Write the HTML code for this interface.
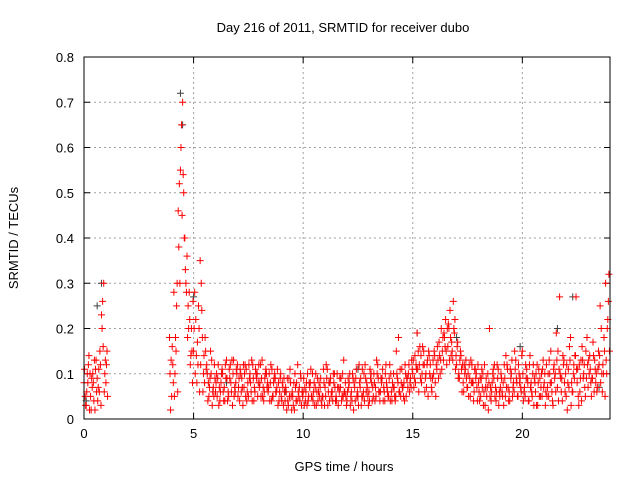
<!DOCTYPE html>
<html><head><meta charset="utf-8"><style>
body{margin:0;background:#fff}
svg{display:block;font-family:"Liberation Sans",sans-serif}
</style></head><body>
<svg id="chart" width="640" height="480">
<rect width="640" height="480" fill="#fff"/>
<text x="343" y="32" font-size="13" text-anchor="middle" fill="#000">Day 216 of 2011, SRMTID for receiver dubo</text>
<text x="18" y="238" font-size="13" text-anchor="middle" transform="rotate(-90 18 238)" fill="#000">SRMTID / TECUs</text>
<text x="344" y="471" font-size="13" text-anchor="middle" fill="#000">GPS time / hours</text>
<g id="grid"></g>
<g id="ticks"></g>
<g id="gray"></g>
<g id="red"></g>
<rect x="84" y="57" width="526" height="362" fill="none" stroke="#000" stroke-width="1"/>
</svg>
<script>
const xTicks=[0,5,10,15,20];
const yTicks=[0,0.1,0.2,0.3,0.4,0.5,0.6,0.7,0.8];
const yTickLabels=["0","0.1","0.2","0.3","0.4","0.5","0.6","0.7","0.8"];
const hours=[0.0,0.1,0.2,0.3,0.4,0.5,0.6,0.7,0.8,0.9,1.0,
3.9,4.0,4.1,4.2,4.3,4.4,4.5,4.6,4.7,4.8,4.9,
5.0,5.1,5.2,5.3,5.4,5.5,5.6,5.7,5.8,5.9,
6.0,6.1,6.2,6.3,6.4,6.5,6.6,6.7,6.8,6.9,7.0,7.1,7.2,7.3,7.4,7.5,7.6,7.7,7.8,7.9,8.0,8.1,8.2,8.3,8.4,8.5,8.6,8.7,8.8,8.9,
9.0,9.1,9.2,9.3,9.4,9.5,9.6,9.7,9.8,9.9,10.0,10.1,10.2,10.3,10.4,10.5,10.6,10.7,10.8,10.9,11.0,11.1,11.2,11.3,11.4,11.5,11.6,11.7,11.8,11.9,
12.0,12.1,12.2,12.3,12.4,12.5,12.6,12.7,12.8,12.9,13.0,13.1,13.2,13.3,13.4,13.5,13.6,13.7,13.8,13.9,14.0,14.1,14.2,14.3,14.4,14.5,14.6,14.7,14.8,14.9,
15.0,15.1,15.2,15.3,15.4,15.5,15.6,15.7,15.8,15.9,16.0,16.1,16.2,16.3,16.4,16.5,16.6,16.7,16.8,16.9,17.0,17.1,17.2,17.3,17.4,17.5,17.6,17.7,17.8,17.9,
18.0,18.1,18.2,18.3,18.4,18.5,18.6,18.7,18.8,18.9,19.0,19.1,19.2,19.3,19.4,19.5,19.6,19.7,19.8,19.9,20.0,20.1,20.2,20.3,20.4,20.5,20.6,20.7,20.8,20.9,
21.0,21.1,21.2,21.3,21.4,21.5,21.6,21.7,21.8,21.9,22.0,22.1,22.2,22.3,22.4,22.5,22.6,22.7,22.8,22.9,23.0,23.1,23.2,23.3,23.4,23.5,23.6,23.7,23.8,23.9];
const tecuA=[0.08,0.03,0.12,0.05,0.10,0.02,0.09,0.06,0.23,0.30,0.08,
0.18,0.05,0.28,0.15,0.46,0.55,0.70,0.40,0.36,0.28,0.20,
0.15,0.22,0.12,0.35,0.18,0.08,0.12,0.05,0.10,0.07,
0.06,0.09,0.04,0.11,0.07,0.13,0.05,0.08,0.10,0.06,0.12,0.04,0.09,0.07,0.11,0.05,0.08,0.12,0.06,0.10,0.07,0.09,0.04,0.11,0.06,0.08,0.05,0.10,0.07,0.04,
0.05,0.03,0.07,0.04,0.11,0.06,0.02,0.08,0.05,0.09,0.06,0.04,0.10,0.07,0.05,0.08,0.03,0.06,0.09,0.05,0.07,0.11,0.04,0.06,0.08,0.05,0.03,0.07,0.10,0.06,
0.04,0.08,0.06,0.02,0.09,0.05,0.07,0.11,0.04,0.08,0.06,0.10,0.05,0.07,0.12,0.04,0.09,0.06,0.08,0.05,0.10,0.07,0.04,0.09,0.06,0.11,0.08,0.05,0.10,0.09,
0.10,0.14,0.19,0.12,0.08,0.15,0.10,0.05,0.12,0.09,0.14,0.11,0.17,0.20,0.13,0.22,0.16,0.24,0.15,0.19,0.12,0.10,0.14,0.08,0.11,0.07,0.09,0.12,0.06,0.10,
0.08,0.05,0.10,0.03,0.07,0.20,0.06,0.09,0.04,0.11,0.07,0.05,0.09,0.12,0.06,0.10,0.08,0.13,0.05,0.09,0.15,0.07,0.11,0.04,0.08,0.12,0.06,0.03,0.09,0.05,
0.08,0.12,0.05,0.15,0.03,0.10,0.07,0.27,0.09,0.13,0.05,0.11,0.18,0.06,0.14,0.08,0.12,0.04,0.10,0.15,0.07,0.11,0.09,0.13,0.06,0.12,0.20,0.10,0.30,0.22];
const tecuB=[0.05,0.10,0.02,0.09,0.04,0.13,0.07,0.12,0.26,0.10,0.15,
0.02,0.12,0.10,0.30,0.52,0.65,0.50,0.30,0.25,0.12,0.08,
0.28,0.08,0.20,0.30,0.10,0.15,0.04,0.09,0.03,0.12,
0.10,0.03,0.08,0.06,0.12,0.04,0.09,0.13,0.05,0.11,0.07,0.10,0.03,0.12,0.06,0.09,0.13,0.04,0.10,0.08,0.12,0.05,0.09,0.07,0.10,0.04,0.08,0.06,0.03,0.09,
0.08,0.06,0.02,0.09,0.05,0.03,0.07,0.12,0.04,0.06,0.03,0.08,0.05,0.11,0.04,0.07,0.09,0.05,0.03,0.08,0.12,0.06,0.09,0.04,0.07,0.10,0.06,0.04,0.13,0.05,
0.09,0.03,0.10,0.07,0.05,0.12,0.03,0.06,0.09,0.05,0.11,0.04,0.08,0.13,0.06,0.09,0.04,0.10,0.06,0.12,0.04,0.07,0.15,0.18,0.05,0.07,0.12,0.09,0.06,0.13,
0.07,0.12,0.15,0.09,0.16,0.06,0.12,0.14,0.07,0.10,0.05,0.13,0.10,0.15,0.18,0.12,0.20,0.14,0.26,0.11,0.17,0.13,0.06,0.12,0.09,0.05,0.13,0.08,0.11,0.04,
0.04,0.11,0.06,0.09,0.02,0.07,0.10,0.05,0.12,0.06,0.09,0.03,0.14,0.07,0.11,0.05,0.15,0.08,0.10,0.06,0.04,0.12,0.08,0.14,0.05,0.09,0.03,0.11,0.07,0.13,
0.03,0.07,0.10,0.06,0.12,0.19,0.04,0.09,0.14,0.06,0.02,0.16,0.08,0.12,0.27,0.05,0.09,0.13,0.07,0.18,0.10,0.05,0.14,0.08,0.11,0.25,0.06,0.15,0.10,0.32];
const tecuC=[0.11,0.06,0.14,0.02,0.08,0.11,0.04,0.15,0.20,0.06,0.12,
0.10,0.16,0.05,0.25,0.38,0.60,0.54,0.33,0.18,0.22,0.15,
0.20,0.14,0.25,0.12,0.06,0.18,0.10,0.07,0.13,0.05,
0.08,0.12,0.06,0.10,0.04,0.09,0.11,0.06,0.13,0.08,0.05,0.11,0.07,0.10,0.04,0.12,0.06,0.09,0.11,0.05,0.08,0.13,0.06,0.10,0.07,0.12,0.05,0.09,0.11,0.06,
0.04,0.09,0.06,0.03,0.08,0.05,0.10,0.04,0.07,0.03,0.09,0.06,0.04,0.08,0.10,0.03,0.06,0.08,0.04,0.11,0.05,0.03,0.08,0.06,0.10,0.04,0.07,0.09,0.05,0.08,
0.06,0.10,0.04,0.08,0.11,0.03,0.09,0.05,0.12,0.07,0.04,0.08,0.10,0.05,0.09,0.06,0.11,0.04,0.07,0.09,0.06,0.10,0.05,0.08,0.11,0.07,0.04,0.09,0.12,0.07,
0.13,0.08,0.11,0.16,0.10,0.12,0.07,0.15,0.09,0.13,0.08,0.16,0.14,0.11,0.19,0.15,0.21,0.18,0.13,0.22,0.16,0.09,0.11,0.06,0.13,0.10,0.05,0.08,0.11,0.07,
0.06,0.09,0.03,0.07,0.10,0.05,0.08,0.12,0.06,0.03,0.10,0.08,0.05,0.11,0.04,0.13,0.06,0.09,0.12,0.07,0.10,0.05,0.09,0.12,0.06,0.03,0.10,0.08,0.05,0.11,
0.10,0.05,0.13,0.08,0.11,0.06,0.15,0.10,0.04,0.08,0.12,0.07,0.03,0.10,0.14,0.11,0.06,0.16,0.12,0.09,0.13,0.08,0.17,0.11,0.07,0.14,0.10,0.18,0.13,0.26];
const tecuD=[0.03,0.08,0.10,0.07,0.13,0.06,0.11,0.03,0.16,0.13,0.05,
0.13,0.08,0.18,0.06,0.30,0.45,0.40,0.28,0.20,0.14,0.26,
0.10,0.17,0.06,0.24,0.14,0.11,0.08,0.15,0.06,0.09,
0.05,0.07,0.10,0.04,0.09,0.06,0.12,0.03,0.07,0.10,0.09,0.06,0.12,0.05,0.08,0.10,0.04,0.07,0.09,0.12,0.05,0.07,0.10,0.08,0.04,0.11,0.09,0.06,0.08,0.10,
0.07,0.04,0.09,0.05,0.02,0.08,0.04,0.06,0.10,0.05,0.07,0.03,0.08,0.05,0.06,0.10,0.04,0.07,0.05,0.03,0.09,0.08,0.05,0.10,0.04,0.07,0.09,0.05,0.06,0.03,
0.07,0.05,0.09,0.04,0.06,0.08,0.05,0.10,0.06,0.03,0.09,0.07,0.04,0.10,0.06,0.08,0.07,0.12,0.05,0.04,0.08,0.05,0.10,0.06,0.08,0.05,0.10,0.07,0.08,0.11,
0.09,0.11,0.06,0.14,0.12,0.09,0.13,0.10,0.06,0.15,0.12,0.09,0.13,0.18,0.16,0.20,0.13,0.17,0.20,0.14,0.09,0.15,0.12,0.10,0.07,0.12,0.08,0.04,0.09,0.12,
0.09,0.07,0.12,0.05,0.08,0.04,0.11,0.07,0.09,0.05,0.06,0.12,0.07,0.04,0.09,0.07,0.11,0.05,0.08,0.14,0.06,0.09,0.04,0.07,0.10,0.08,0.12,0.05,0.10,0.07,
0.06,0.10,0.08,0.04,0.09,0.13,0.11,0.06,0.12,0.10,0.08,0.13,0.06,0.09,0.11,0.03,0.13,0.09,0.05,0.12,0.14,0.09,0.06,0.10,0.15,0.08,0.12,0.05,0.20,0.15];
const grayHours=[0.1,0.6,0.8,4.4,4.5,5.0,6.5,9.2,12.5,15.2,17.0,19.9,21.6,22.3,23.5];
const grayTecu=[0.04,0.25,0.30,0.72,0.65,0.27,0.08,0.06,0.11,0.19,0.18,0.16,0.20,0.27,0.07];

const NS="http://www.w3.org/2000/svg";
const X0=84,X1=610,Y0=419,Y1=57,XMAX=24,YMAX=0.8;
function xs(h){return X0+(X1-X0)*h/XMAX;}
function ys(v){return Y0-(Y0-Y1)*v/YMAX;}
function mk(tag,attrs,parent){const e=document.createElementNS(NS,tag);for(const k in attrs)e.setAttribute(k,attrs[k]);parent.appendChild(e);return e;}
const grid=document.getElementById('grid'),ticks=document.getElementById('ticks');
yTicks.forEach((v,i)=>{
  const y=ys(v);
  if(i>0&&i<yTicks.length-1){const g=mk('line',{x1:X0,x2:X1,y1:y,y2:y,stroke:'#a0a0a0','stroke-dasharray':'2,3'},grid);
  
  }
  mk('line',{x1:X0,x2:X0+6,y1:y,y2:y,stroke:'#000'},ticks);
  mk('line',{x1:X1,x2:X1-6,y1:y,y2:y,stroke:'#000'},ticks);
  const t=mk('text',{x:X0-10,y:y+5,'font-size':13,'text-anchor':'end',fill:'#000'},ticks);
  t.textContent=yTickLabels[i];
  
  
});
xTicks.forEach(h=>{
  const x=xs(h);
  if(h>0){const g=mk('line',{x1:x,x2:x,y1:Y0,y2:Y1,stroke:'#a0a0a0','stroke-dasharray':'2,3'},grid);
  
  }
  mk('line',{x1:x,x2:x,y1:Y0,y2:Y0-6,stroke:'#000'},ticks);
  mk('line',{x1:x,x2:x,y1:Y1,y2:Y1+6,stroke:'#000'},ticks);
  const t=mk('text',{x:x,y:Y0+19,'font-size':13,'text-anchor':'middle',fill:'#000'},ticks);
  t.textContent=String(h);
  
  
});
function plus(g,h,v,color){
  const x=xs(h),y=ys(v);
  const p=mk('path',{d:`M${x-3.5},${y}H${x+3.5}M${x},${y-3.5}V${y+3.5}`,stroke:color,'stroke-width':1,fill:'none'},g);
  
  
}
const gg=document.getElementById('gray'),rg=document.getElementById('red');
grayHours.forEach((h,i)=>plus(gg,h,grayTecu[i],'#404040'));
hours.forEach((h,i)=>{
  plus(rg,h,tecuA[i],'#ff0000');
  plus(rg,h+0.025,tecuC[i],'#ff0000');
  plus(rg,h+0.05,tecuB[i],'#ff0000');
  plus(rg,h+0.075,tecuD[i],'#ff0000');
});
</script>
</body></html>
